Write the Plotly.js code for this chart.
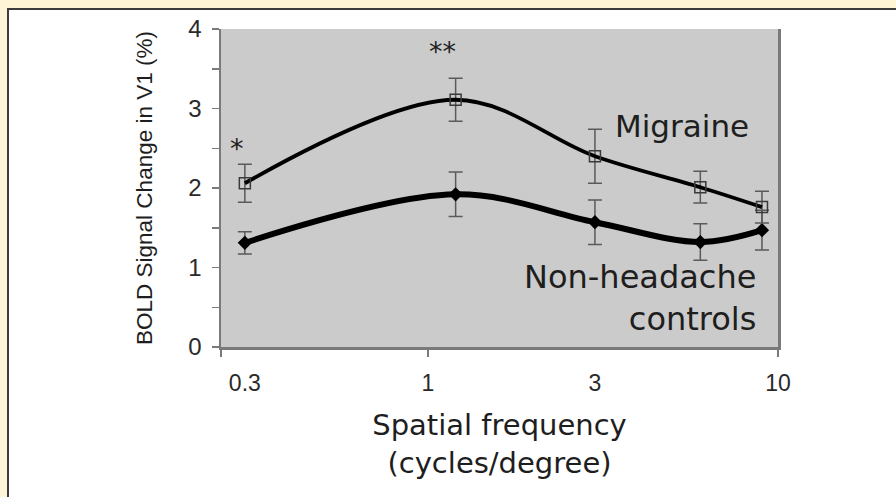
<!DOCTYPE html>
<html>
<head>
<meta charset="utf-8">
<script src="https://cdn.plot.ly/plotly-3.0.1.min.js"></script>
<style>
  html, body { margin: 0; padding: 0; width: 896px; height: 497px; overflow: hidden; background: #FEF4D6; }
  #frame { position: absolute; left: 7px; top: 8px; width: 887px; height: 487px;
           border-left: 2px solid #3c3c3c; border-top: 2px solid #3c3c3c; background: #ffffff; }
  #chart { width: 887px; height: 487px; }
</style>
</head>
<body>
<div id="frame"><div id="chart"></div></div>
<script>
// ---- data ----
const frequency     = [0.3, 1.2, 3, 6, 9];
const migraine      = [2.06, 3.11, 2.40, 2.01, 1.76];
const migraineErr   = [0.24, 0.27, 0.34, 0.20, 0.20];
const controls      = [1.31, 1.92, 1.57, 1.32, 1.47];
const controlsErr   = [0.14, 0.28, 0.28, 0.23, 0.25];
const xTickVals     = [0.3, 1, 3, 10];
const xTickText     = ['0.3', '1', '3', '10'];
const yTickVals     = [0, 1, 2, 3, 4];
const yTickText     = ['0', '1', '2', '3', '4'];
const seriesNames   = ['Migraine', 'Non-headache<br>controls'];
const starLabels    = ['*', '**'];

// ---- geometry helpers (plot area in page pixels) ----
const PX0 = 221, PX1 = 778, PY0 = 29, PY1 = 347;
const X = px => (px - PX0) / (PX1 - PX0);
const Y = py => (PY1 - py) / (PY1 - PY0);
const xLeft = Math.pow(10, -0.591);

const textColor = '#1e1e1e';

const traces = [
  {
    x: frequency, y: controls, type: 'scatter', mode: 'lines+markers', name: 'Non-headache controls',
    line: { color: '#000000', width: 6, shape: 'spline', smoothing: 1 },
    marker: { symbol: 'diamond', size: 11, color: '#000000' },
    error_y: { type: 'data', array: controlsErr, visible: true, color: '#5a5a5a', thickness: 1.5, width: 7 },
    hoverinfo: 'skip'
  },
  {
    x: frequency, y: migraine, type: 'scatter', mode: 'lines+markers', name: 'Migraine',
    line: { color: '#000000', width: 3.8, shape: 'spline', smoothing: 1 },
    marker: { symbol: 'square-open', size: 11, color: '#3a3a3a', line: { width: 1.5, color: '#3a3a3a' } },
    error_y: { type: 'data', array: migraineErr, visible: true, color: '#5a5a5a', thickness: 1.5, width: 7 },
    hoverinfo: 'skip'
  }
];

const layout = {
  width: 887, height: 487, autosize: false,
  margin: { l: PX0 - 9, r: 887 - (PX1 - 9), t: PY0 - 10, b: 487 - (PY1 - 10), pad: 0 },
  paper_bgcolor: '#ffffff',
  plot_bgcolor: '#cbcbcb',
  showlegend: false,
  font: { family: 'Liberation Sans, Arial, sans-serif', color: textColor },
  xaxis: {
    type: 'log',
    range: [Math.log10(xLeft), 1],
    tickmode: 'array', tickvals: xTickVals, ticktext: xTickText,
    ticks: '', ticklabelstandoff: 14,
    tickfont: { size: 23, color: '#2a2a2a' },
    minor: { tickmode: 'array', tickvals: [xLeft, 1, 10], ticks: 'outside', ticklen: 7, tickcolor: '#7a7a7a', tickwidth: 1.5, showgrid: false },
    showline: true, linecolor: '#7a7a7a', linewidth: 2.5,
    showgrid: false, zeroline: false,
    title: { text: 'Spatial frequency<br>(cycles/degree)', font: { family: 'DejaVu Sans, sans-serif', size: 29, color: textColor }, standoff: 20 }
  },
  yaxis: {
    range: [0, 4],
    tickmode: 'array', tickvals: yTickVals, ticktext: yTickText,
    ticks: 'outside', ticklen: 7, tickcolor: '#7a7a7a', tickwidth: 1.5,
    minor: { dtick: 0.5, ticks: 'outside', ticklen: 7, tickcolor: '#7a7a7a', tickwidth: 1.5, showgrid: false },
    ticklabelstandoff: 5,
    tickfont: { size: 24, color: '#2a2a2a' },
    showline: true, linecolor: '#7a7a7a', linewidth: 2.5, mirror: true,
    showgrid: false, zeroline: false,
    title: { text: 'BOLD Signal Change in V1 (%)', font: { size: 22.5, color: textColor }, standoff: 30 }
  },
  annotations: [
    { xref: 'paper', yref: 'paper', x: X(682), y: Y(126), text: seriesNames[0], showarrow: false,
      xanchor: 'center', yanchor: 'middle', font: { family: 'DejaVu Sans, sans-serif', size: 31, color: textColor } },
    { xref: 'paper', yref: 'paper', x: X(757), y: Y(298), text: seriesNames[1], showarrow: false, align: 'right',
      xanchor: 'right', yanchor: 'middle', borderpad: 0, font: { family: 'DejaVu Sans, sans-serif', size: 32, color: textColor } },
    { xref: 'paper', yref: 'paper', x: X(237), y: Y(148), text: starLabels[0], showarrow: false,
      xanchor: 'center', yanchor: 'middle', font: { family: 'DejaVu Sans, sans-serif', size: 27, color: textColor } },
    { xref: 'paper', yref: 'paper', x: X(442), y: Y(51), text: starLabels[1], showarrow: false,
      xanchor: 'center', yanchor: 'middle', font: { family: 'DejaVu Sans, sans-serif', size: 27, color: textColor } }
  ]
};

Plotly.newPlot('chart', traces, layout, { staticPlot: true, displayModeBar: false });
</script>
</body>
</html>
